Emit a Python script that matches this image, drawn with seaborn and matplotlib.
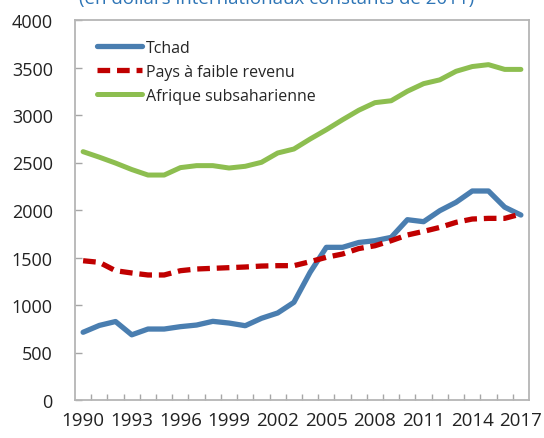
import numpy as np
import pandas as pd
import seaborn as sns
import matplotlib
matplotlib.use('Agg')
import matplotlib.pyplot as plt
import matplotlib.ticker as mtick

# Données (PIB par habitant, $ internationaux constants de 2011)
years = list(range(1990, 2018))
tchad = [713, 785, 826, 686, 747, 747, 772, 789, 828, 810, 782, 860, 916, 1028,
         1344, 1607, 1607, 1658, 1677, 1712, 1898, 1877, 1993, 2081, 2200, 2200, 2030, 1947]
faible_revenu = [1466, 1449, 1361, 1337, 1316, 1316, 1361, 1379, 1386, 1393, 1400, 1410, 1414, 1414,
                 1456, 1502, 1537, 1594, 1624, 1677, 1737, 1775, 1817, 1870, 1905, 1912, 1912, 1958]
afrique_ss = [2614, 2556, 2494, 2426, 2368, 2368, 2446, 2467, 2467, 2442, 2460, 2502, 2600, 2642,
              2747, 2845, 2950, 3050, 3130, 3150, 3250, 3330, 3370, 3460, 3510, 3530, 3480, 3480]
year_labels = [str(y) for y in range(1990, 2018, 3)]
title = '(en dollars internationaux constants de 2011)'

df = pd.DataFrame({'annee': years, 'Tchad': tchad,
                   'Pays à faible revenu': faible_revenu,
                   'Afrique subsaharienne': afrique_ss})

sns.set_theme(style='white')
plt.rcParams['font.family'] = ['Open Sans', 'DejaVu Sans']

fig = plt.figure(figsize=(5.44, 4.39), dpi=100)
ax = fig.add_axes([75 / 544, 1 - 401 / 439, 454 / 544, 380 / 439])

sns.lineplot(x='annee', y='Tchad', data=df, ax=ax, color='#4A7EB0', linewidth=3.8,
             label='Tchad', solid_capstyle='round')
sns.lineplot(x='annee', y='Pays à faible revenu', data=df, ax=ax, color='#C00000', linewidth=3.8,
             linestyle=(0, (2.4, 1.3)), label='Pays à faible revenu')
sns.lineplot(x='annee', y='Afrique subsaharienne', data=df, ax=ax, color='#8DBE50', linewidth=3.6,
             label='Afrique subsaharienne', solid_capstyle='round')

ax.set_xlim(1989.5, 2017.5)
ax.set_ylim(0, 4000)
ax.set_xticks(range(1990, 2018, 3))
ax.set_xticklabels(year_labels)
ax.xaxis.set_minor_locator(mtick.FixedLocator(np.arange(1990.5, 2017, 1)))
ax.set_yticks(range(0, 4001, 500))
ax.tick_params(axis='x', which='major', length=0, labelsize=13.5, pad=8, colors='#222222')
ax.tick_params(axis='x', which='minor', length=4, direction='in', width=1, color='#A6A6A6', bottom=True)
ax.tick_params(axis='y', which='major', length=5, direction='in', width=1, color='#A6A6A6',
               labelsize=13, pad=16, left=True, labelcolor='#222222')
ax.set_xlabel('')
ax.set_ylabel('')
for side in ['left', 'bottom', 'top', 'right']:
    ax.spines[side].set_color('#B5B5B5')
    ax.spines[side].set_linewidth(1.3)

ax.legend(loc='upper left', bbox_to_anchor=(0.035, 0.965), frameon=False, fontsize=11.5,
          handlelength=2.8, handletextpad=0.25, labelspacing=0.5, borderaxespad=0)

fig.text(277 / 544, 1 - 4 / 439, title, ha='center', va='baseline', fontsize=13.5, color='#2E75B6')

plt.savefig('out.png', dpi=100)
